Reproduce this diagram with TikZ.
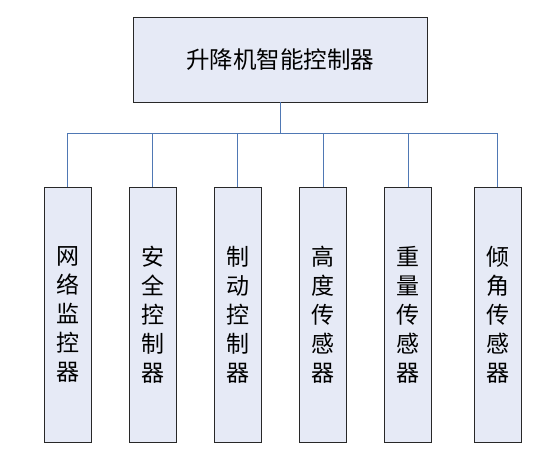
\documentclass[tikz,border=0pt]{standalone}
\usepackage{fontspec}
\setmainfont{Noto Sans CJK SC}
\definecolor{boxfill}{RGB}{230,234,246}
\definecolor{boxline}{RGB}{40,40,40}
\definecolor{wire}{RGB}{79,120,180}
\begin{document}
\begin{tikzpicture}[x=1pt,y=-1pt,
  topbox/.style={draw=boxline,fill=boxfill,line width=0.9pt,minimum width=294pt,minimum height=85pt,inner sep=0pt,font=\fontsize{23.5}{26}\selectfont},
  vbox/.style={draw=boxline,fill=boxfill,line width=0.9pt,minimum width=47pt,minimum height=255pt,inner sep=0pt,align=center,font=\fontsize{23}{29}\selectfont},
  wireline/.style={draw=wire,line width=0.9pt}]
\useasboundingbox (0,0) rectangle (549,453);
\node[topbox] (top) at (280,59.5) {升降机智能控制器};
\node[vbox] (b1) at (67.5,314.5) {网\\络\\监\\控\\器};
\node[vbox] (b2) at (152.5,314.5) {安\\全\\控\\制\\器};
\node[vbox] (b3) at (237.5,314.5) {制\\动\\控\\制\\器};
\node[vbox] (b4) at (323,314.5) {高\\度\\传\\感\\器};
\node[vbox] (b5) at (408,314.5) {重\\量\\传\\感\\器};
\node[vbox] (b6) at (497.5,314.5) {倾\\角\\传\\感\\器};
\coordinate (bus) at (280,133);
\draw[wireline] (top.south) -- (bus);
\foreach \b in {b1,b2,b3,b4,b5,b6}{
  \draw[wireline] (bus) -| (\b.north);
}
\end{tikzpicture}
\end{document}
